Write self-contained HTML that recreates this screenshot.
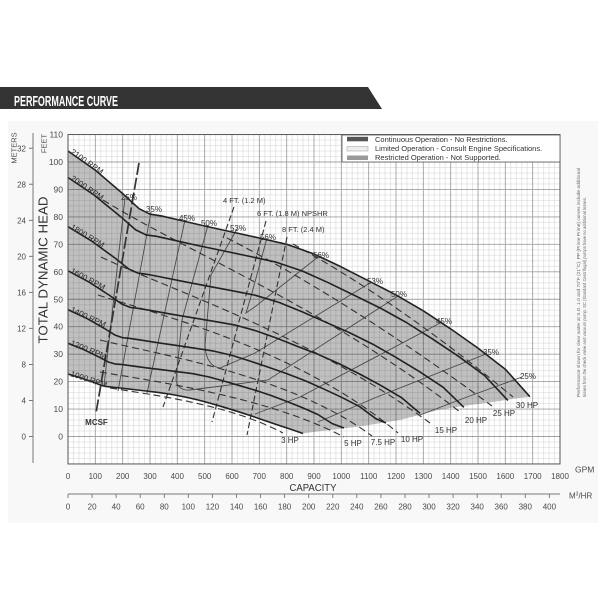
<!DOCTYPE html>
<html><head><meta charset="utf-8"><style>
html,body{margin:0;padding:0;background:#fff;}
svg{display:block;}
text{font-family:"Liberation Sans",Arial,sans-serif;}
</style></head><body>
<svg width="600" height="600" viewBox="0 0 600 600" xmlns="http://www.w3.org/2000/svg">
<defs>
<pattern id="mg" x="68" y="134.55" width="27.3333" height="27.45" patternUnits="userSpaceOnUse">
<path d="M5.4667,0V27.45M10.9333,0V27.45M16.4,0V27.45M21.8667,0V27.45M0,5.49H27.3333M0,10.98H27.3333M0,16.47H27.3333M0,21.96H27.3333" stroke="#000" stroke-opacity="0.17" stroke-width="0.55" fill="none"/>
</pattern>
</defs>
<rect width="600" height="600" fill="#fff"/>
<rect x="8" y="121" width="590" height="402" fill="#f8f8f8"/>
<!-- title bar -->
<polygon points="0,87 368,87 382,109 0,109" fill="#333"/>
<text x="14" y="106" font-size="15" font-weight="bold" fill="#fff" textLength="104" lengthAdjust="spacingAndGlyphs">PERFORMANCE CURVE</text>

<!-- plot background -->
<rect x="68" y="134.55" width="492" height="329.4" fill="#fff"/>
<!-- gray operating region -->
<path d="M68,151 L95.3,170.2 L122.7,193.6 L139.1,208.7 L150,214.2 L160.9,215.8 L177.3,219.6 L204.7,226 L232,232 L259.3,238 L286.7,244.3 L314,254 L341.3,266.9 L368.7,280.9 L396,294.9 L423.3,310.8 L450.7,328.9 L478,348.1 L505.3,369.2 L529.9,396.7 L515,398.5 L493,402 L463,406 L440,409.5 L423,414 L400,420 L390,421.5 L366,425.5 L343,428.5 L313,432 L303,433.5 L290,429 L276.3,424.5 L263.2,420 L250.2,415.5 L237.2,411.3 L224.2,407.3 L211.2,403.5 L198.2,400 L185.1,397 L172.1,394.5 L159.1,392.6 L146.1,391 L133.1,389.5 L120.1,388 L112.3,387.2 L107,386.6 L101.8,385.5 L94,382.5 L81,378 L68,374 Z" fill="#c0c0c0"/>
<!-- grid -->
<rect x="68" y="134.55" width="492" height="329.4" fill="url(#mg)"/>
<path d="M95.33,134.55V463.95M122.67,134.55V463.95M150,134.55V463.95M177.33,134.55V463.95M204.67,134.55V463.95M232,134.55V463.95M259.33,134.55V463.95M286.67,134.55V463.95M314,134.55V463.95M341.33,134.55V463.95M368.67,134.55V463.95M396,134.55V463.95M423.33,134.55V463.95M450.67,134.55V463.95M478,134.55V463.95M505.33,134.55V463.95M532.67,134.55V463.95M68,162H560M68,189.45H560M68,216.9H560M68,244.35H560M68,271.8H560M68,299.25H560M68,326.7H560M68,354.15H560M68,381.6H560M68,409.05H560M68,436.5H560" stroke="#000" stroke-opacity="0.36" stroke-width="0.9" fill="none"/>

<!-- efficiency lines -->
<g stroke="#4a4a4a" stroke-width="0.9" fill="none">
<path d="M125,198 L104,386"/>
<path d="M151,212 L118,391"/>
<path d="M185,220 L147,393"/>
<path d="M208,225 L182,320 L176,380 Q178,391 190,390 L268,380 L398,296"/>
<path d="M237,229 L211,275 L205,345 Q206,366 220,368 L255,353 L370,283"/>
<path d="M267,238 L250,300 L246,313 L256,306 L318,257"/>
<path d="M255,414 L300,397 L442,322"/>
<path d="M318,422 L377,397 L486,354"/>
<path d="M420,415 L467,397 L522,377"/>
</g>

<!-- HP dashed lines -->
<g stroke="#333" stroke-width="1.1" fill="none" stroke-dasharray="7 4">
<path d="M293,244 Q400,303 513,397"/>
<path d="M227,238 Q350,301 492,406"/>
<path d="M103,200 C180,248 330,310 460,412"/>
<path d="M101,257 C170,290 310,335 430,423"/>
<path d="M98,295 C160,315 300,350 398,433"/>
<path d="M100,340 C160,355 290,375 372,436"/>
<path d="M100,372 C160,382 270,398 344,437"/>
<path d="M110,388 C160,396 230,405 283,433"/>
</g>

<!-- NPSHR dashed lines -->
<g stroke="#333" stroke-width="1.1" fill="none" stroke-dasharray="6 3">
<path d="M234,207 L163,407"/>
<path d="M266,221 L212,422"/>
<path d="M287,237 L247,435"/>
</g>
<!-- MCSF -->
<path d="M139,163 L96,413" stroke="#333" stroke-width="1.7" fill="none" stroke-dasharray="12 3"/>

<!-- RPM curves -->
<g stroke="#222" stroke-width="1.6" fill="none" stroke-linejoin="round">
<path d="M68,151 L95.3,170.2 L122.7,193.6 L139.1,208.7 L150,214.2 L160.9,215.8 L177.3,219.6 L204.7,226 L232,232 L259.3,238 L286.7,244.3 L314,254 L341.3,266.9 L368.7,280.9 L396,294.9 L423.3,310.8 L450.7,328.9 L478,348.1 L505.3,369.2 L529.9,396.7"/>
<path d="M68,177.5 L94,195 L120.1,216.2 L135.7,229.9 L146.1,234.9 L156.5,236.3 L172.1,239.8 L198.2,245.6 L224.2,251 L250.2,256.5 L276.3,262.2 L302.3,271 L328.3,282.7 L354.4,295.4 L380.4,308.1 L406.4,322.5 L432.4,338.9 L458.5,356.3 L484.5,375.5 L507.9,400.4"/>
<path d="M68,226.7 L91.4,240.9 L114.9,258 L128.9,269.1 L138.3,273.2 L147.7,274.4 L161.7,277.1 L185.1,281.8 L208.6,286.3 L232,290.7 L255.4,295.3 L278.9,302.4 L302.3,311.9 L325.7,322.2 L349.1,332.5 L372.6,344.1 L396,357.4 L419.4,371.6 L442.9,387.1 L463.9,407.3"/>
<path d="M68,270.8 L88.8,281.9 L109.7,295.5 L122.2,304.3 L130.5,307.5 L138.8,308.4 L151.3,310.6 L172.1,314.3 L193,317.8 L213.8,321.3 L234.6,324.9 L255.4,330.6 L276.3,338 L297.1,346.2 L317.9,354.3 L338.7,363.5 L359.6,374 L380.4,385.2 L401.2,397.4 L420,413.4"/>
<path d="M68,309.6 L86.2,318.1 L104.5,328.5 L115.4,335.3 L122.7,337.7 L130,338.4 L140.9,340.1 L159.1,342.9 L177.3,345.6 L195.6,348.3 L213.8,351.1 L232,355.4 L250.2,361.1 L268.5,367.3 L286.7,373.6 L304.9,380.6 L323.1,388.7 L341.3,397.2 L359.6,406.6 L376,418.8 L386,423"/>
<path d="M68,343.3 L83.6,349.5 L99.2,357.2 L108.6,362.1 L114.9,363.9 L121.1,364.4 L130.5,365.7 L146.1,367.8 L161.7,369.7 L177.3,371.7 L193,373.7 L208.6,376.9 L224.2,381.1 L239.8,385.7 L255.4,390.3 L271.1,395.5 L286.7,401.4 L302.3,407.6 L317.9,414.5 L332,423.5 L344,428"/>
<path d="M68,374 L81,378 L94,382.5 L101.8,385.5 L107,386.6 L112.3,387.2 L120.1,388 L133.1,389.5 L146.1,391 L159.1,392.6 L172.1,394.5 L185.1,397 L198.2,400 L211.2,403.5 L224.2,407.3 L237.2,411.3 L250.2,415.5 L263.2,420 L276.3,424.5 L290,429 L303,433.5"/>
</g>

<!-- RPM labels -->
<g font-size="8" fill="#2a2a2a">
<text x="70" y="153" transform="rotate(35 70 153)">2100 RPM</text>
<text x="70" y="179.5" transform="rotate(34 70 179.5)">2000 RPM</text>
<text x="70" y="228.5" transform="rotate(31 70 228.5)">1800 RPM</text>
<text x="70" y="272.5" transform="rotate(28 70 272.5)">1600 RPM</text>
<text x="70" y="311.5" transform="rotate(25 70 311.5)">1400 RPM</text>
<text x="70" y="345" transform="rotate(22 70 345)">1200 RPM</text>
<text x="70" y="376" transform="rotate(18 70 376)">1000 RPM</text>
</g>

<!-- efficiency labels -->
<g font-size="8" fill="#333" text-anchor="middle">
<text x="129" y="200">25%</text>
<text x="154" y="212">35%</text>
<text x="187" y="221">45%</text>
<text x="209" y="226">50%</text>
<text x="238" y="231">53%</text>
<text x="268" y="240">56%</text>
<text x="321" y="258">56%</text>
<text x="375" y="284">53%</text>
<text x="399" y="297">50%</text>
<text x="444" y="324">45%</text>
<text x="491" y="355">35%</text>
<text x="528" y="379">25%</text>
</g>

<!-- HP labels -->
<g font-size="8" fill="#333" text-anchor="middle">
<text x="290" y="443">3 HP</text>
<text x="353" y="446">5 HP</text>
<text x="383" y="445">7.5 HP</text>
<text x="412" y="442">10 HP</text>
<text x="446" y="433">15 HP</text>
<text x="476" y="423">20 HP</text>
<text x="504" y="416">25 HP</text>
<text x="527" y="408">30 HP</text>
</g>

<!-- NPSHR labels -->
<g font-size="7.5" fill="#333">
<text x="223" y="203">4 FT. (1.2 M)</text>
<text x="257" y="216">6 FT. (1.8 M) NPSHR</text>
<text x="282" y="232">8 FT. (2.4 M)</text>
</g>
<text x="96.5" y="425" font-size="8" font-weight="bold" fill="#333" text-anchor="middle">MCSF</text>

<!-- plot border -->
<rect x="68" y="134.55" width="492" height="329.4" fill="none" stroke="#555" stroke-width="1"/>

<!-- legend -->
<rect x="342" y="135" width="218" height="27" fill="#fff" stroke="#555" stroke-width="0.8"/>
<rect x="347" y="136.8" width="21" height="4.5" fill="#555"/>
<rect x="347" y="146.5" width="21" height="4.5" fill="#eee" stroke="#999" stroke-width="0.5"/>
<rect x="347" y="155.5" width="21" height="4.5" fill="#999"/>
<g font-size="7.5" fill="#333">
<text x="375" y="142">Continuous Operation - No Restrictions.</text>
<text x="375" y="151">Limited Operation - Consult Engine Specifications.</text>
<text x="375" y="159.8">Restricted Operation - Not Supported.</text>
</g>

<!-- feet axis labels -->
<g font-size="8.5" fill="#4a4a4a" text-anchor="end">
<text x="63" y="137.6">110</text>
<text x="63" y="165">100</text>
<text x="63" y="192.5">90</text>
<text x="63" y="219.9">80</text>
<text x="63" y="247.4">70</text>
<text x="63" y="274.8">60</text>
<text x="63" y="302.3">50</text>
<text x="63" y="329.7">40</text>
<text x="63" y="357.2">30</text>
<text x="63" y="384.6">20</text>
<text x="63" y="412">10</text>
<text x="63" y="439.5">0</text>
</g>
<text x="46.5" y="143.5" font-size="7.5" fill="#4a4a4a" text-anchor="middle" transform="rotate(-90 46.5 143.5)">FEET</text>

<!-- meters axis -->
<path d="M33,133V463" stroke="#777" stroke-width="1" fill="none"/>
<path d="M29,148.3H33M29,184.3H33M29,220.4H33M29,256.4H33M29,292.4H33M29,328.4H33M29,364.5H33M29,400.5H33M29,436.5H33" stroke="#777" stroke-width="1" fill="none"/>
<g font-size="8" fill="#4a4a4a" text-anchor="end">
<text x="26" y="151.3">32</text>
<text x="26" y="187.3">28</text>
<text x="26" y="223.4">24</text>
<text x="26" y="259.4">20</text>
<text x="26" y="295.4">16</text>
<text x="26" y="331.4">12</text>
<text x="26" y="367.5">8</text>
<text x="26" y="403.5">4</text>
<text x="26" y="439.5">0</text>
</g>
<text x="16.5" y="148" font-size="7.5" fill="#4a4a4a" text-anchor="middle" transform="rotate(-90 16.5 148)">METERS</text>
<text x="47.5" y="270" font-size="12.5" fill="#333" text-anchor="middle" textLength="147" lengthAdjust="spacingAndGlyphs" transform="rotate(-90 47.5 270)">TOTAL DYNAMIC HEAD</text>

<!-- GPM axis labels -->
<g font-size="8" fill="#4a4a4a" text-anchor="middle">
<text x="68" y="479">0</text>
<text x="95.3" y="479">100</text>
<text x="122.7" y="479">200</text>
<text x="150" y="479">300</text>
<text x="177.3" y="479">400</text>
<text x="204.7" y="479">500</text>
<text x="232" y="479">600</text>
<text x="259.3" y="479">700</text>
<text x="286.7" y="479">800</text>
<text x="314" y="479">900</text>
<text x="341.3" y="479">1000</text>
<text x="368.7" y="479">1100</text>
<text x="396" y="479">1200</text>
<text x="423.3" y="479">1300</text>
<text x="450.7" y="479">1400</text>
<text x="478" y="479">1500</text>
<text x="505.3" y="479">1600</text>
<text x="532.7" y="479">1700</text>
<text x="560" y="479">1800</text>
</g>
<text x="575" y="472.5" font-size="8.5" fill="#4a4a4a">GPM</text>
<text x="313" y="491" font-size="10.5" fill="#333" text-anchor="middle" textLength="47" lengthAdjust="spacingAndGlyphs">CAPACITY</text>

<!-- m3/hr axis -->
<path d="M68,494H560" stroke="#777" stroke-width="1" fill="none"/>
<path d="M68,494V498M92.1,494V498M116.1,494V498M140.2,494V498M164.3,494V498M188.3,494V498M212.4,494V498M236.5,494V498M260.5,494V498M284.6,494V498M308.7,494V498M332.8,494V498M356.8,494V498M380.9,494V498M405,494V498M429,494V498M453.1,494V498M477.2,494V498M501.2,494V498M525.3,494V498M549.4,494V498" stroke="#777" stroke-width="0.9" fill="none"/>
<g font-size="8" fill="#4a4a4a" text-anchor="middle">
<text x="68" y="509.5">0</text>
<text x="92.1" y="509.5">20</text>
<text x="116.1" y="509.5">40</text>
<text x="140.2" y="509.5">60</text>
<text x="164.3" y="509.5">80</text>
<text x="188.3" y="509.5">100</text>
<text x="212.4" y="509.5">120</text>
<text x="236.5" y="509.5">140</text>
<text x="260.5" y="509.5">160</text>
<text x="284.6" y="509.5">180</text>
<text x="308.7" y="509.5">200</text>
<text x="332.8" y="509.5">220</text>
<text x="356.8" y="509.5">240</text>
<text x="380.9" y="509.5">260</text>
<text x="405" y="509.5">280</text>
<text x="429" y="509.5">300</text>
<text x="453.1" y="509.5">320</text>
<text x="477.2" y="509.5">340</text>
<text x="501.2" y="509.5">360</text>
<text x="525.3" y="509.5">380</text>
<text x="549.4" y="509.5">400</text>
</g>
<text x="569" y="498.5" font-size="8" fill="#4a4a4a">M<tspan font-size="5" dy="-3">3</tspan><tspan dy="3">/HR</tspan></text>

<!-- side note -->
<g font-size="4.6" fill="#666">
<text x="580" y="397" transform="rotate(-90 580 397)" textLength="229" lengthAdjust="spacingAndGlyphs">Performance shown for clear water at S.G. 1.0 and 70°F (21°C). PP (Prime Prime) curves include additional</text>
<text x="586" y="397" transform="rotate(-90 586 397)" textLength="200" lengthAdjust="spacingAndGlyphs">losses from the check valve and vacuum pump. SC (Standard Centrifugal) pumps have no additional losses.</text>
</g>
</svg>
</body></html>
